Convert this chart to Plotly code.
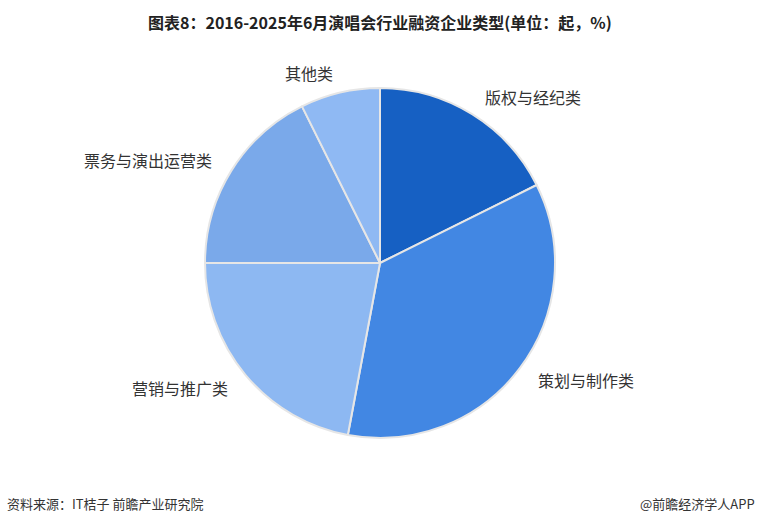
import math
import plotly.graph_objects as go

categories = ["版权与经纪类", "策划与制作类", "营销与推广类", "票务与演出运营类", "其他类"]
values = [12, 24, 15, 12, 5]
colors = ["#1660c3", "#4287e3", "#8db8f2", "#7aa9ea", "#8fb9f3"]

title_text = "图表8：2016-2025年6月演唱会行业融资企业类型(单位：起，%)"
source_text = "资料来源：IT桔子 前瞻产业研究院"
brand_text = "@前瞻经济学人APP"

W, H = 760, 524
cx, cy, R = 380, 263, 175  # pixel geometry of the pie

fig = go.Figure(go.Pie(
    labels=categories,
    values=values,
    sort=False,
    direction="clockwise",
    rotation=0,
    textinfo="none",
    hoverinfo="label+value+percent",
    marker=dict(colors=colors, line=dict(color="#e6e6e6", width=2)),
    domain=dict(x=[(cx - R) / W, (cx + R) / W], y=[1 - (cy + R) / H, 1 - (cy - R) / H]),
    showlegend=False,
))

# outside labels placed along each slice's mid-angle
total = sum(values)
cum = 0
annotations = []
for lab, v in zip(categories, values):
    mid = (cum + v / 2) / total * 2 * math.pi
    cum += v
    rl = R * 1.114
    px = cx + rl * math.sin(mid)
    py = cy - rl * math.cos(mid)
    right = math.sin(mid) >= 0
    annotations.append(dict(
        x=px / W, y=1 - py / H, xref="paper", yref="paper",
        text=lab, showarrow=False,
        xanchor="left" if right else "right", yanchor="middle",
        font=dict(size=16, color="#333333", family="Noto Sans CJK SC"),
    ))

annotations += [
    dict(x=0.5, y=1 - 22 / H, xref="paper", yref="paper", text="<b>" + title_text + "</b>",
         showarrow=False, xanchor="center", yanchor="middle",
         font=dict(size=16, color="#222222", family="Noto Sans CJK SC")),
    dict(x=5 / W, y=1 - 503 / H, xref="paper", yref="paper", text=source_text,
         showarrow=False, xanchor="left", yanchor="middle",
         font=dict(size=13, color="#333333", family="Noto Sans CJK SC")),
    dict(x=757 / W, y=1 - 503 / H, xref="paper", yref="paper", text=brand_text,
         showarrow=False, xanchor="right", yanchor="middle",
         font=dict(size=13, color="#333333", family="Noto Sans CJK SC")),
]

fig.update_layout(
    width=W, height=H,
    margin=dict(l=0, r=0, t=0, b=0),
    paper_bgcolor="white", plot_bgcolor="white",
    annotations=annotations,
)

fig.write_html("out.html", config={"displayModeBar": False},
               post_script="document.body.style.margin='0';document.body.style.overflow='hidden';")
